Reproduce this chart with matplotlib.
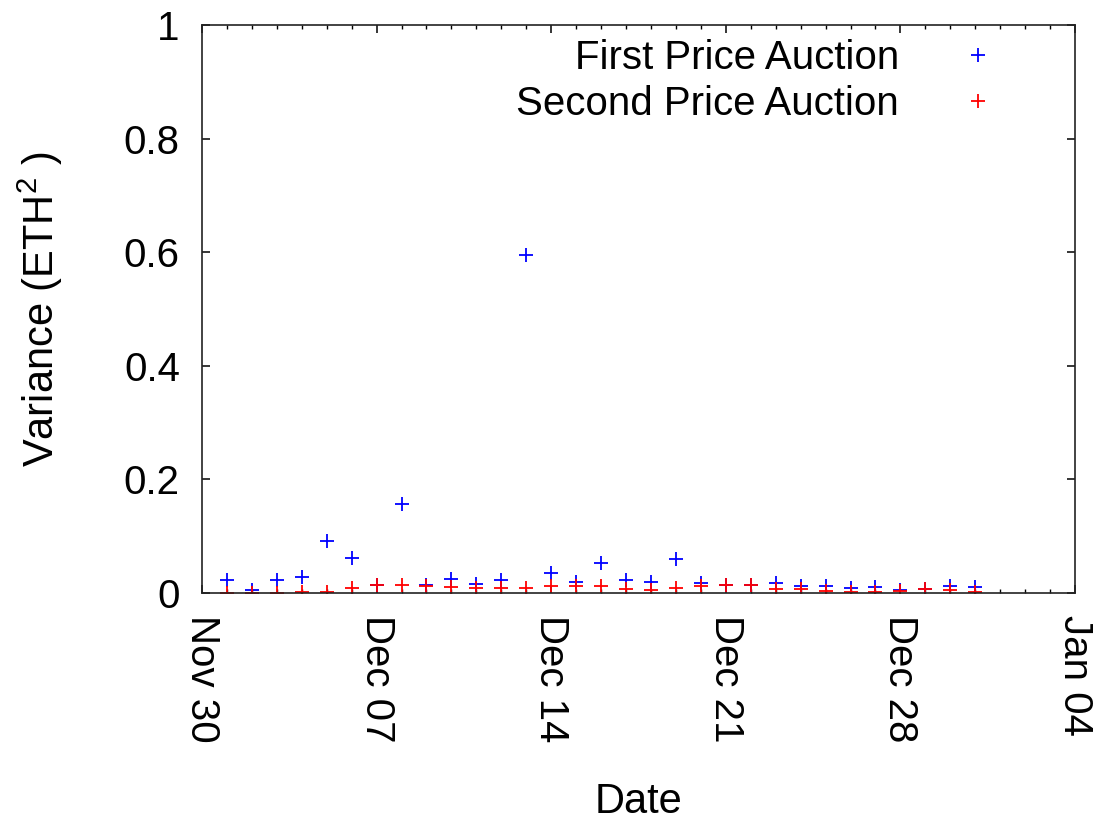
import matplotlib
matplotlib.use("Agg")
import matplotlib.pyplot as plt
import matplotlib.dates as mdates
import pandas as pd

plt.rcParams['font.family'] = ['Liberation Sans', 'DejaVu Sans']
plt.rcParams['mathtext.fontset'] = 'custom'
plt.rcParams['mathtext.rm'] = 'Liberation Sans'
plt.rcParams['mathtext.it'] = 'Liberation Sans'

# daily values, Dec 1 .. Dec 31
dates = pd.date_range("2017-12-01", "2017-12-31", freq="D")
first_price = [0.022, 0.006, 0.022, 0.028, 0.091, 0.062, 0.014, 0.156, 0.0145, 0.025,
               0.016, 0.023, 0.595, 0.035, 0.019, 0.053, 0.023, 0.019, 0.059, 0.018,
               0.014, 0.0145, 0.017, 0.012, 0.013, 0.009, 0.010, 0.006, 0.007, 0.012,
               0.010]
second_price = [0.0, 0.0, 0.0, 0.002, 0.002, 0.009, 0.0145, 0.0145, 0.013, 0.011,
                0.009, 0.009, 0.009, 0.0115, 0.0115, 0.0115, 0.007, 0.006, 0.009, 0.012,
                0.0145, 0.0145, 0.007, 0.007, 0.003, 0.002, 0.002, 0.003, 0.007, 0.006,
                0.002]
x_start, x_end = "2017-11-30", "2018-01-04"
week_ticks = pd.date_range(x_start, x_end, freq="7D")
y_ticks = [0, 0.2, 0.4, 0.6, 0.8, 1]
y_ticklabels = ["0", "0.2", "0.4", "0.6", "0.8", "1"]

fig = plt.figure(figsize=(11.02, 8.22), dpi=100)
ax = fig.add_axes([0.1833, 0.2786, 0.7922, 0.6910])

ax.plot(dates, first_price, linestyle="none", marker="+", color="#0000ff",
        markersize=10, markeredgewidth=1.3, label="First Price Auction")
ax.plot(dates, second_price, linestyle="none", marker="+", color="#ff0000",
        markersize=10, markeredgewidth=1.3, label="Second Price Auction")

ax.set_xlim(pd.Timestamp(x_start), pd.Timestamp(x_end))
ax.set_ylim(0, 1)
ax.set_yticks(y_ticks)
ax.set_yticklabels(y_ticklabels)

ax.set_xticks(week_ticks)
ax.xaxis.set_minor_locator(mdates.DayLocator())
ax.xaxis.set_major_formatter(mdates.DateFormatter("%b %d"))

for s in ax.spines.values():
    s.set_linewidth(1.2)
    s.set_color("#222222")

ax.tick_params(axis="both", which="major", direction="in", length=6, width=1.1,
               top=True, right=True, labelsize=29)
ax.tick_params(axis="x", which="minor", direction="in", length=3, width=1.0, top=True)
ax.tick_params(axis="x", which="major", pad=16)
ax.tick_params(axis="y", which="major", pad=16)
for lab in ax.get_xticklabels():
    lab.set_rotation(-90)
    lab.set_ha("center")
    lab.set_va("top")

ax.set_xlabel("Date", fontsize=30, labelpad=28)
ax.set_ylabel("Variance (ETH$^2$ )", fontsize=30, labelpad=42)

leg = ax.legend(loc="upper right", bbox_to_anchor=(0.953, 1.004), markerfirst=False,
                frameon=False, fontsize=29, handletextpad=0.95, labelspacing=0.21,
                borderaxespad=0.0, handlelength=2.0)

fig.savefig("out.png", dpi=100)
